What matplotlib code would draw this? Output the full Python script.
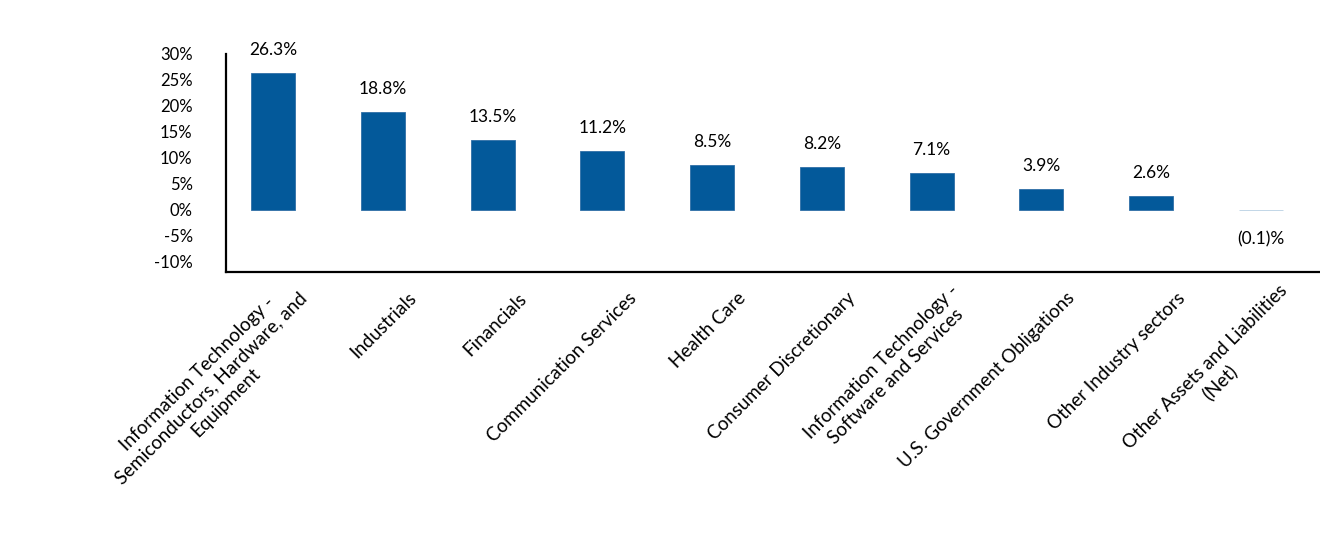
import matplotlib
matplotlib.use("Agg")
import matplotlib.pyplot as plt
from matplotlib.transforms import ScaledTranslation

categories = [
    "Information Technology -\nSemiconductors, Hardware, and\nEquipment",
    "Industrials",
    "Financials",
    "Communication Services",
    "Health Care",
    "Consumer Discretionary",
    "Information Technology -\nSoftware and Services",
    "U.S. Government Obligations",
    "Other Industry sectors",
    "Other Assets and Liabilities\n(Net)",
]
values = [26.3, 18.8, 13.5, 11.2, 8.5, 8.2, 7.1, 3.9, 2.6, -0.1]
value_labels = ["26.3%", "18.8%", "13.5%", "11.2%", "8.5%", "8.2%", "7.1%", "3.9%", "2.6%", "(0.1)%"]
yticks = [-10, -5, 0, 5, 10, 15, 20, 25, 30]
ytick_labels = ["-10%", "-5%", "0%", "5%", "10%", "15%", "20%", "25%", "30%"]

plt.rcParams['font.family'] = ['Lato', 'DejaVu Sans']

fig = plt.figure(figsize=(13.2, 5.4), dpi=100)
ax = fig.add_axes([226/1320, 1 - 271.7/540, 1 - 226/1320, (271.7 - 54)/540])

dark = '#03599A'
light = '#B8D0E3'
x = list(range(len(values)))
colors = [dark if v >= 0 else light for v in values]
edges = ['#2F6FA6' if v >= 0 else light for v in values]
ax.bar(x, values, width=0.4, color=colors, edgecolor=edges, linewidth=0.6, zorder=2)

for xi, v, lab in zip(x, values, value_labels):
    if v >= 0:
        ax.annotate(lab, (xi, v), xytext=(0, 15), textcoords='offset pixels',
                    ha='center', va='bottom', fontsize=12.5, color='black')
    else:
        ax.annotate(lab, (xi, v), xytext=(0, -21), textcoords='offset pixels',
                    ha='center', va='top', fontsize=12.5, color='black')

ax.set_xlim(-0.43, 9.54)
ax.set_ylim(-12, 30)
ax.set_yticks(yticks)
ax.set_yticklabels(ytick_labels, fontsize=12)
ax.tick_params(axis='y', length=0, pad=24)
ax.set_xticks(x)
ax.set_xticklabels(categories, rotation=45, ha='right', va='center',
                   rotation_mode='anchor', fontsize=13.5, multialignment='center',
                   linespacing=1.25)
ax.tick_params(axis='x', length=0, pad=17)
off = ScaledTranslation(0.31, 0, fig.dpi_scale_trans)
for t in ax.get_xticklabels():
    t.set_transform(t.get_transform() + off)

for s in ['top', 'right']:
    ax.spines[s].set_visible(False)
for s in ['left', 'bottom']:
    ax.spines[s].set_linewidth(1.6)
    ax.spines[s].set_color('black')

fig.savefig('out.png', dpi=100)
